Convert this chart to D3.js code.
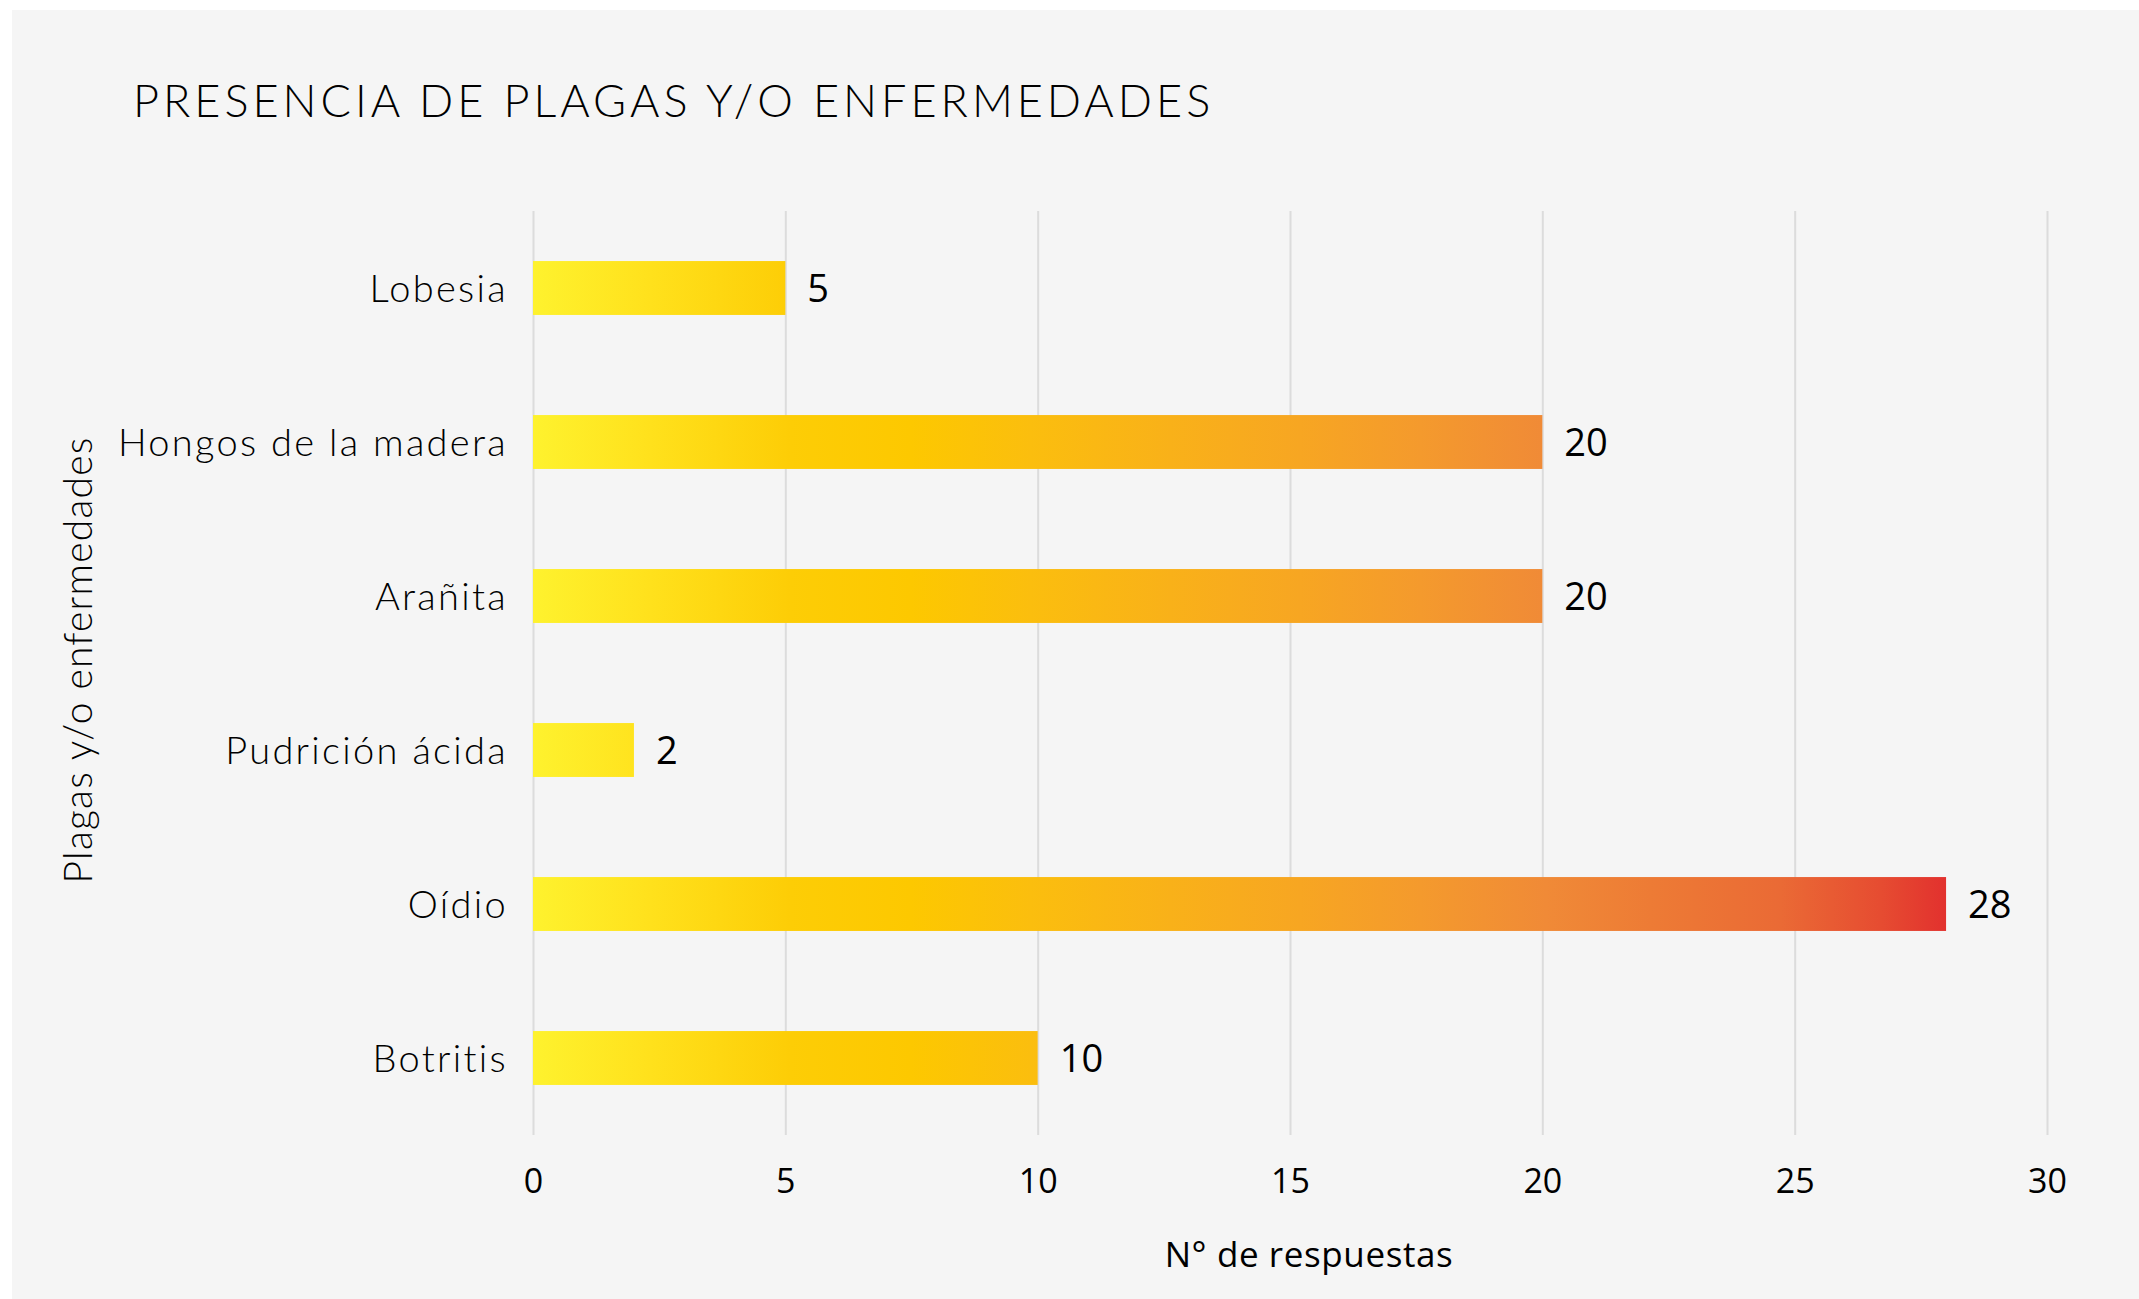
<!DOCTYPE html>
<html>
<head>
<meta charset="utf-8">
<script src="https://cdn.jsdelivr.net/npm/d3@7"></script>
<style>
  html, body { margin: 0; padding: 0; background: #ffffff; }
  svg { display: block; }
</style>
</head>
<body>
<svg id="chart" width="2139" height="1299"></svg>
<script>
// datos del gráfico
const categories = ['Lobesia', 'Hongos de la madera', 'Arañita', 'Pudrición ácida', 'Oídio', 'Botritis'];
const values = [5, 20, 20, 2, 28, 10];
const xTicks = [0, 5, 10, 15, 20, 25, 30];

const titleText = 'PRESENCIA DE PLAGAS Y/O ENFERMEDADES';
const xTitle = 'N° de respuestas';
const yTitle = 'Plagas y/o enfermedades';

const W = 2139, H = 1299;
const plot = { left: 533, right: 2047, top: 211, bottom: 1135 };

const svg = d3.select('#chart');

// fondo del panel
svg.append('rect')
  .attr('x', 12).attr('y', 10)
  .attr('width', W - 12).attr('height', H - 10)
  .attr('fill', '#f5f5f5');

// escalas
const x = d3.scaleLinear().domain([0, 30]).range([plot.left, plot.right]);
const y = d3.scaleBand().domain(categories)
  .range([plot.top, plot.bottom])
  .paddingInner(0.65).paddingOuter(0.325);

// degradado amarillo -> rojo (en espacio de usuario, común a todas las barras)
const stops = [
  [0, '#fef22e'], [0.083, '#ffe11c'], [0.182, '#fdcd06'], [0.267, '#fdc800'],
  [0.352, '#fbbe0e'], [0.451, '#f9b119'], [0.543, '#f7a622'], [0.628, '#f49a2d'],
  [0.717, '#f08a37'], [0.791, '#ed7b35'], [0.883, '#ea6a35'], [0.954, '#e64c31'],
  [1, '#e2312e']
];
const grad = svg.append('defs').append('linearGradient')
  .attr('id', 'barGrad')
  .attr('gradientUnits', 'userSpaceOnUse')
  .attr('x1', x(0)).attr('x2', x(d3.max(values)))
  .attr('y1', 0).attr('y2', 0);
grad.selectAll('stop').data(stops).enter().append('stop')
  .attr('offset', d => d[0])
  .attr('stop-color', d => d[1]);

// líneas de cuadrícula
const xAxis = d3.axisBottom(x).tickValues(xTicks).tickSize(0).tickPadding(0);
const gx = svg.append('g').attr('transform', `translate(0,${plot.bottom})`).call(xAxis);
gx.select('.domain').remove();
gx.selectAll('.tick').append('line')
  .attr('y1', 0).attr('y2', plot.top - plot.bottom)
  .attr('stroke', '#dcdcdc').attr('stroke-width', 2);
gx.selectAll('.tick text')
  .attr('y', 58)
  .attr('dy', 0)
  .attr('fill', '#000')
  .style('font-family', '"Open Sans", sans-serif')
  .style('font-size', '34px');

// barras
svg.append('g').selectAll('rect')
  .data(values)
  .enter().append('rect')
  .attr('x', x(0))
  .attr('y', (d, i) => y(categories[i]))
  .attr('width', d => x(d) - x(0))
  .attr('height', y.bandwidth())
  .attr('fill', 'url(#barGrad)');

// etiquetas de valor
svg.append('g').selectAll('text')
  .data(values)
  .enter().append('text')
  .attr('x', d => x(d) + 22)
  .attr('y', (d, i) => y(categories[i]) + y.bandwidth() / 2 + 14)
  .attr('fill', '#000')
  .style('font-family', '"Open Sans", sans-serif')
  .style('font-size', '38px')
  .text(d => d);

// etiquetas de categoría
const yAxis = d3.axisLeft(y).tickSize(0).tickPadding(0);
const gy = svg.append('g').attr('transform', `translate(${plot.left - 25},0)`).call(yAxis);
gy.select('.domain').remove();
gy.selectAll('.tick text')
  .attr('x', 0)
  .attr('dy', 0)
  .attr('y', 13.5)
  .attr('fill', '#000')
  .style('font-family', 'Lato, sans-serif')
  .style('font-weight', 300)
  .style('font-size', '38px')
  .style('letter-spacing', '2.3px');

// título
svg.append('text')
  .attr('x', 133).attr('y', 117)
  .attr('fill', '#000')
  .style('font-family', 'Lato, sans-serif')
  .style('font-weight', 300)
  .style('font-size', '45px')
  .style('letter-spacing', '4px')
  .text(titleText);

// título eje X
svg.append('text')
  .attr('x', 1309).attr('y', 1267)
  .attr('text-anchor', 'middle')
  .attr('fill', '#000')
  .style('font-family', '"Open Sans", sans-serif')
  .style('font-size', '35px')
  .style('letter-spacing', '0.6px')
  .text(xTitle);

// título eje Y
svg.append('text')
  .attr('transform', 'translate(92,660) rotate(-90)')
  .attr('text-anchor', 'middle')
  .attr('fill', '#000')
  .style('font-family', 'Lato, sans-serif')
  .style('font-weight', 300)
  .style('font-size', '39px')
  .style('letter-spacing', '1.2px')
  .text(yTitle);
</script>
</body>
</html>
